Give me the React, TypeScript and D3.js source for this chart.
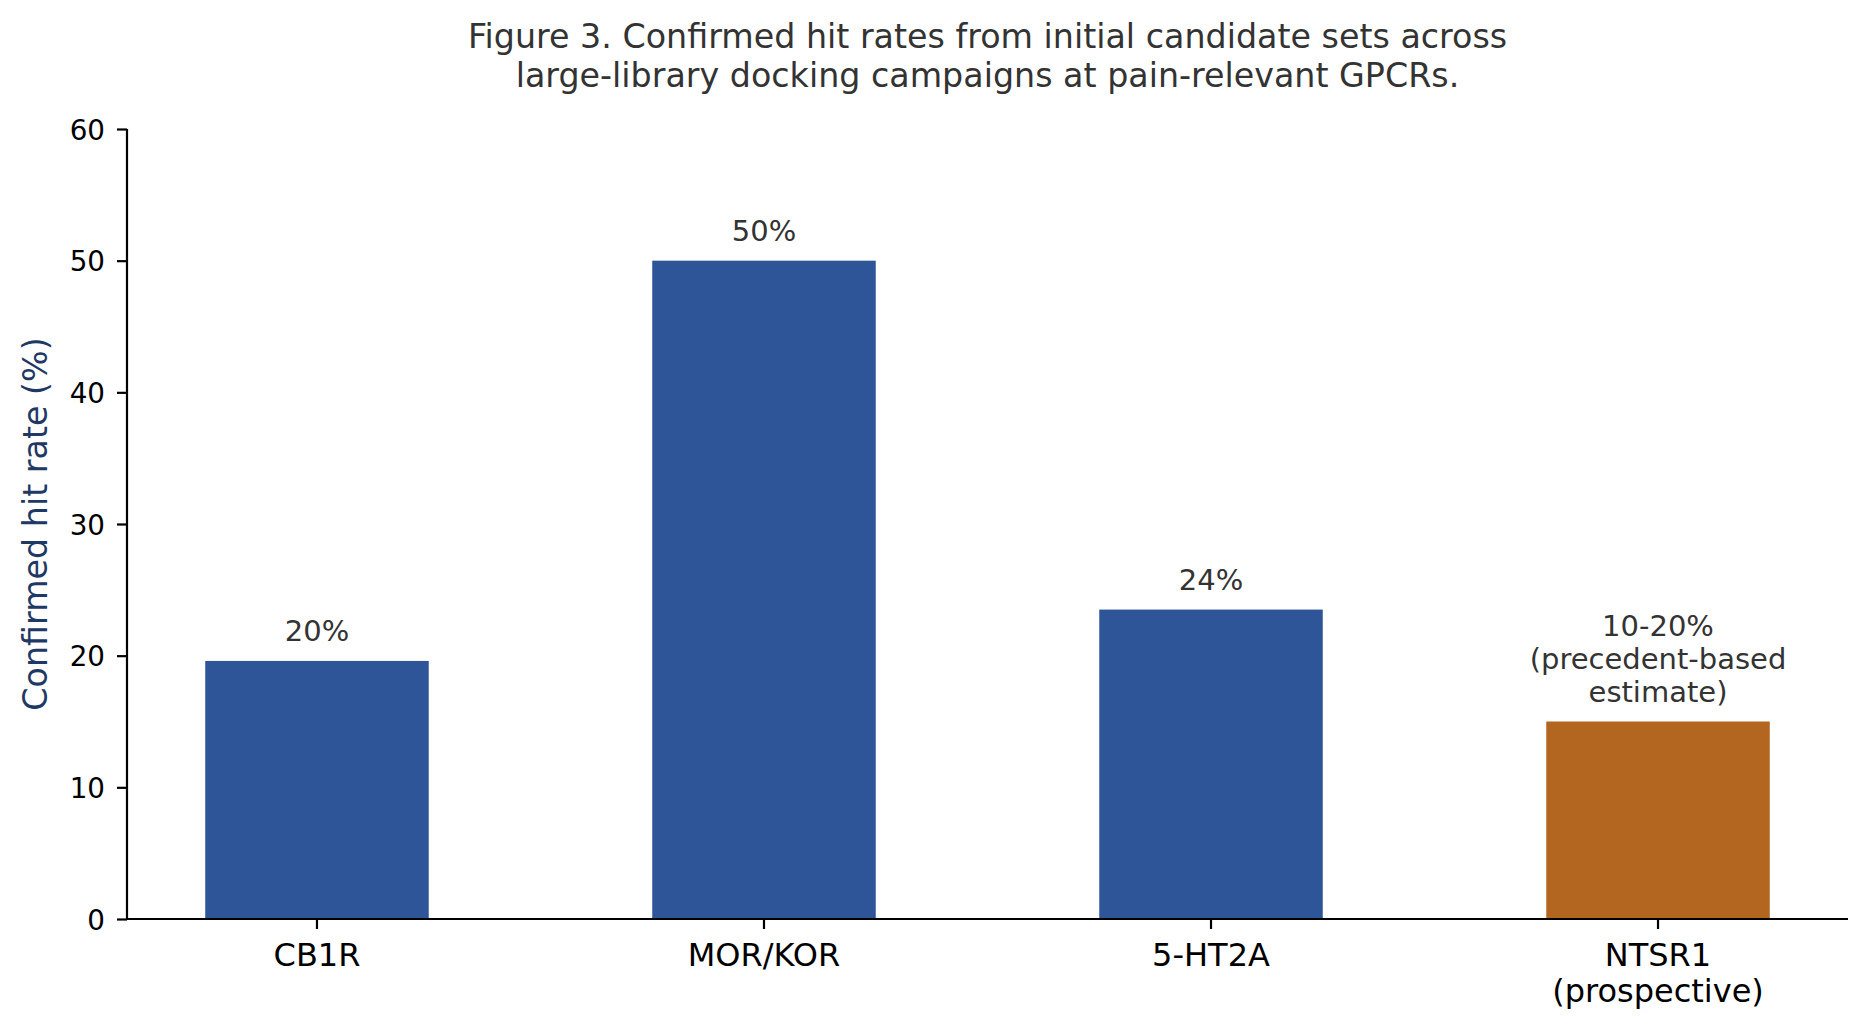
import { useEffect, useRef } from "react";
import * as d3 from "d3";

// ---- data ----
const CATEGORIES = ["CB1R", "MOR/KOR", "5-HT2A", "NTSR1\n(prospective)"];
const HIT_RATES = [19.6, 50, 23.5, 15];
const BAR_LABELS = ["20%", "50%", "24%", "10-20%\n(precedent-based\nestimate)"];
const PROSPECTIVE = [false, false, false, true];
const Y_TICKS = [0, 10, 20, 30, 40, 50, 60];
const TITLE_LINES = [
  "Figure 3. Confirmed hit rates from initial candidate sets across",
  "large-library docking campaigns at pain-relevant GPCRs.",
];
const Y_LABEL = "Confirmed hit rate (%)";

const WIDTH = 1870;
const HEIGHT = 1029;
const margin = { top: 129, right: 22, bottom: 110, left: 127 };

const COLORS = {
  done: "#2E5597",
  prospective: "#B2661F",
  axis: "#000000",
  text: "#333333",
  ylabel: "#1F3864",
};

const FONT = "'DejaVu Sans', Verdana, sans-serif";

export default function App() {
  const svgRef = useRef<SVGSVGElement>(null);

  useEffect(() => {
    document.body.style.margin = "0";
    if (!svgRef.current) return;

    const innerWidth = WIDTH - margin.left - margin.right;
    const innerHeight = HEIGHT - margin.top - margin.bottom;

    const svg = d3.select(svgRef.current);
    svg.selectAll("*").remove();

    const x = d3.scaleBand<string>()
      .domain(CATEGORIES)
      .range([0, innerWidth])
      .paddingInner(0.5)
      .paddingOuter(0.175);

    const y = d3.scaleLinear().domain([0, 60]).range([innerHeight, 0]);

    const g = svg.append("g")
      .attr("transform", `translate(${margin.left},${margin.top})`);

    // bars
    g.selectAll("rect.bar")
      .data(CATEGORIES)
      .join("rect")
      .attr("class", "bar")
      .attr("x", (d) => x(d) ?? 0)
      .attr("width", x.bandwidth())
      .attr("y", (_, i) => y(HIT_RATES[i]))
      .attr("height", (_, i) => innerHeight - y(HIT_RATES[i]))
      .attr("fill", (_, i) => (PROSPECTIVE[i] ? COLORS.prospective : COLORS.done));

    // value labels above bars
    CATEGORIES.forEach((c, i) => {
      const lines = BAR_LABELS[i].split("\n");
      const cx = (x(c) ?? 0) + x.bandwidth() / 2;
      const lastBaseline = y(HIT_RATES[i]) - 20;
      const t = g.append("text")
        .attr("text-anchor", "middle")
        .attr("font-family", FONT)
        .attr("font-size", 29)
        .attr("fill", COLORS.text);
      lines.forEach((line, k) => {
        t.append("tspan")
          .attr("x", cx)
          .attr("y", lastBaseline - (lines.length - 1 - k) * 33)
          .text(line);
      });
    });

    // y axis
    const yAxis = g.append("g")
      .call(d3.axisLeft(y).tickValues(Y_TICKS).tickSize(10).tickPadding(12).tickFormat((d) => `${d}`));
    yAxis.select(".domain")
      .attr("stroke", COLORS.axis)
      .attr("stroke-width", 2.2)
      .attr("d", `M0,${innerHeight}V0`);
    yAxis.selectAll(".tick line").attr("stroke", COLORS.axis).attr("stroke-width", 2.2);
    yAxis.selectAll(".tick text")
      .attr("fill", "#000")
      .attr("font-family", FONT)
      .attr("font-size", 27.8)
      .attr("dy", "0.36em");

    // x axis
    const xAxis = g.append("g")
      .attr("transform", `translate(0,${innerHeight})`)
      .call(d3.axisBottom(x).tickSize(10).tickSizeOuter(0).tickFormat(() => ""));
    xAxis.select(".domain")
      .attr("stroke", COLORS.axis)
      .attr("stroke-width", 2.2)
      .attr("d", `M0,0H${innerWidth}`);
    xAxis.selectAll(".tick line").attr("stroke", COLORS.axis).attr("stroke-width", 2.2);

    CATEGORIES.forEach((c) => {
      const cx = (x(c) ?? 0) + x.bandwidth() / 2;
      const t = xAxis.append("text")
        .attr("text-anchor", "middle")
        .attr("font-family", FONT)
        .attr("font-size", 32)
        .attr("fill", "#000");
      c.split("\n").forEach((line, k) => {
        t.append("tspan")
          .attr("x", cx)
          .attr("y", 47 + k * 36)
          .text(line);
      });
    });

    // y label
    svg.append("text")
      .attr("transform", `translate(47,${margin.top + innerHeight / 2}) rotate(-90)`)
      .attr("text-anchor", "middle")
      .attr("font-family", FONT)
      .attr("font-size", 33.3)
      .attr("fill", COLORS.ylabel)
      .text(Y_LABEL);

    // title
    const title = svg.append("text")
      .attr("text-anchor", "middle")
      .attr("font-family", FONT)
      .attr("font-size", 33.3)
      .attr("fill", COLORS.text);
    TITLE_LINES.forEach((line, k) => {
      title.append("tspan")
        .attr("x", margin.left + innerWidth / 2)
        .attr("y", 48 + k * 39)
        .text(line);
    });
  }, []);

  return <svg ref={svgRef} width={WIDTH} height={HEIGHT} style={{ display: "block", background: "#fff" }} />;
}
